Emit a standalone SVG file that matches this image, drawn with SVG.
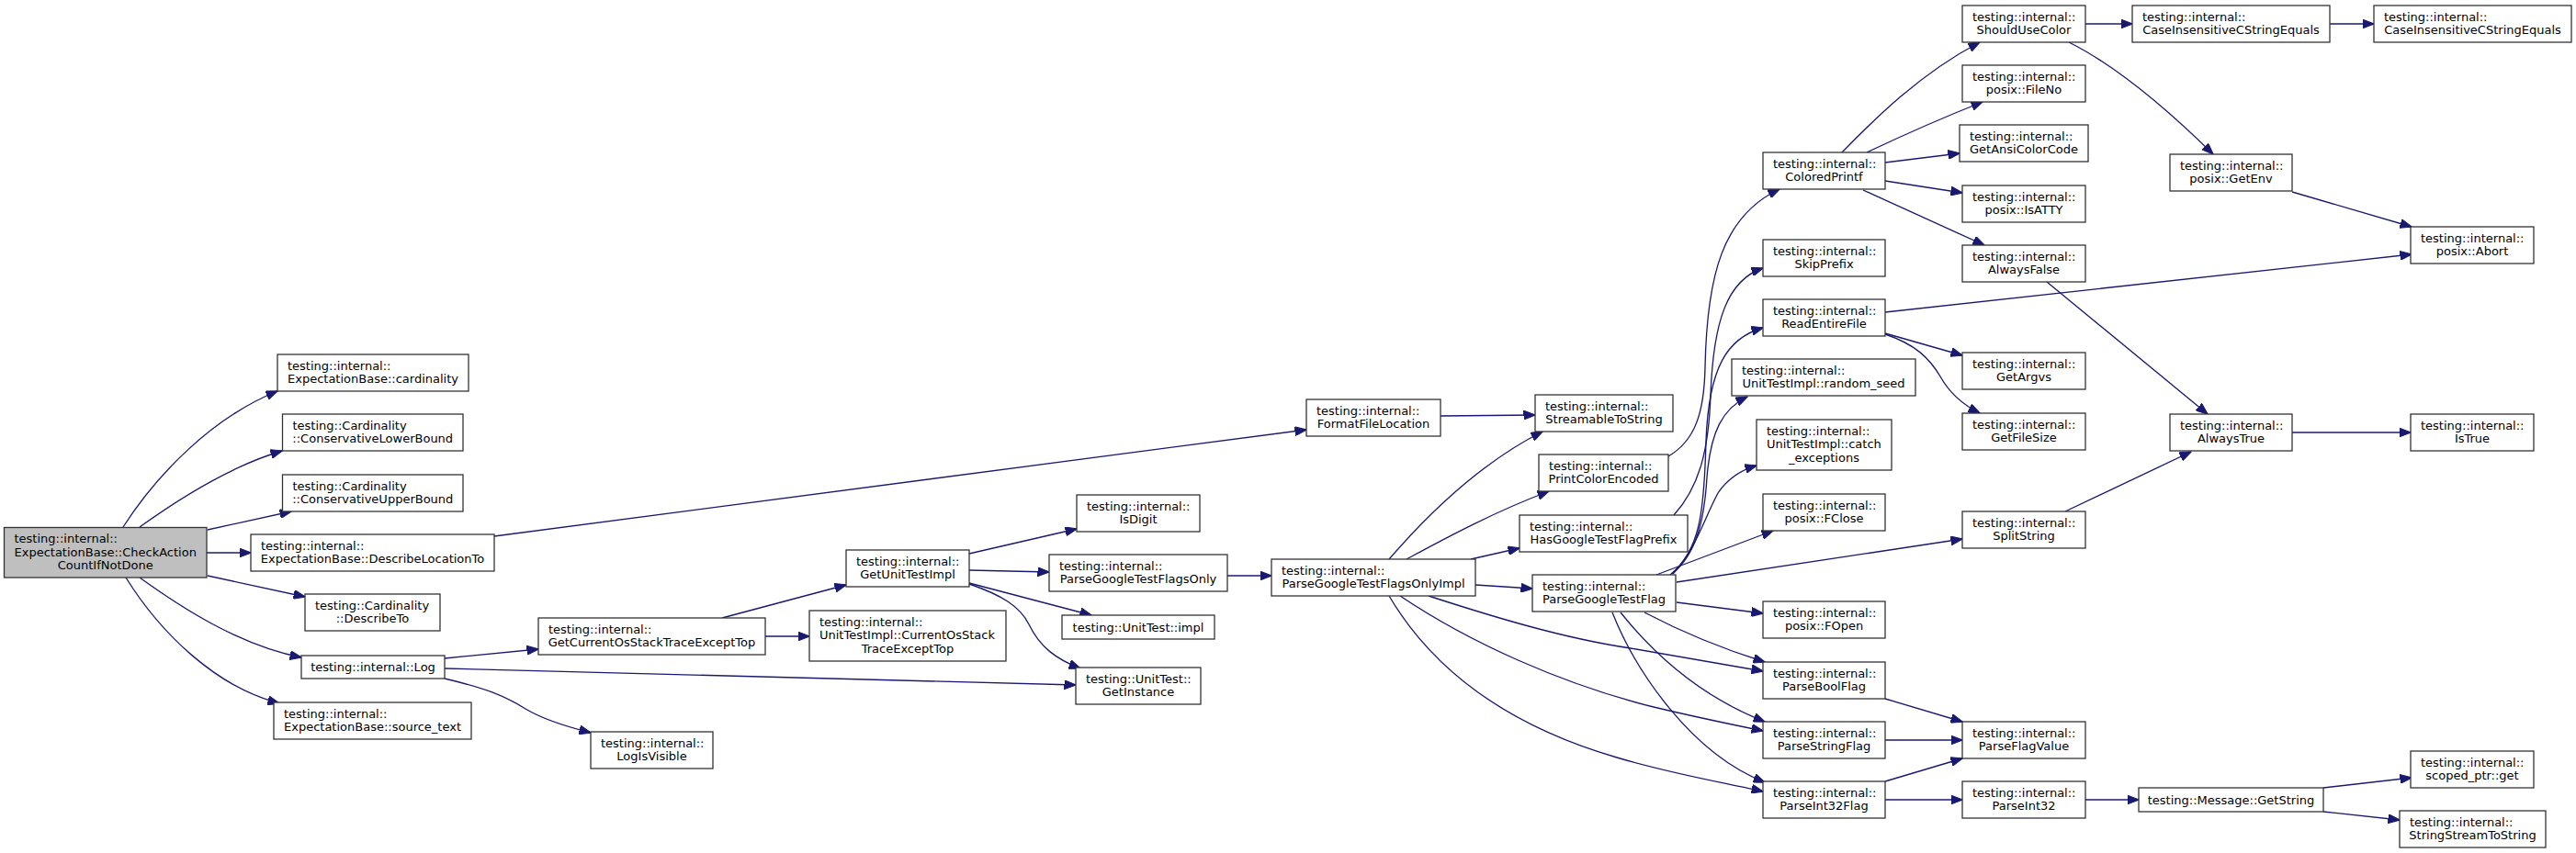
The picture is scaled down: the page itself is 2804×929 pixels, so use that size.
<svg xmlns="http://www.w3.org/2000/svg" width="2804" height="929" viewBox="0 0 2804 929">
<defs>
<style>
.n rect{fill:#ffffff;stroke:#333333;stroke-width:1.3}
.n.root rect{fill:#bfbfbf}
.n text{font-family:"DejaVu Sans","Liberation Sans",sans-serif;font-size:13px;fill:#000000}
.n .m{text-anchor:middle}
#edges path{fill:none;stroke:#191970;stroke-width:1.33;marker-end:url(#ah)}
</style>
<marker id="ah" viewBox="0 0 13 10" refX="12.5" refY="5" markerWidth="13" markerHeight="10" markerUnits="userSpaceOnUse" orient="auto">
<path d="M0,0 L13,5 L0,10 z" fill="#191970" stroke="#191970" stroke-width="1"/>
</marker>
</defs>
<rect width="2804" height="929" fill="#ffffff"/>
<g id="edges">
<path d="M134,574 C170,518 230,455 302,426"/>
<path d="M152,574 C195,543 250,508 307,491"/>
<path d="M226,577 L317,557"/>
<path d="M225,602 L273,602"/>
<path d="M226,627 L332,650"/>
<path d="M152,629 C195,660 260,703 328,716"/>
<path d="M137,629 C175,690 235,748 304,766"/>
<path d="M538,584 L1422,468"/>
<path d="M484,717 L586,707"/>
<path d="M484,728 L1171,746"/>
<path d="M484,739 C530,750 550,758 572,772 C592,784 615,791 643,798"/>
<path d="M786,673 L921,637"/>
<path d="M833,693 L881,693"/>
<path d="M1055,603 L1172,576"/>
<path d="M1055,621 L1142,623"/>
<path d="M1055,635 L1188,670"/>
<path d="M1055,636 C1090,648 1110,660 1120,680 C1132,705 1150,718 1176,728"/>
<path d="M1336,627 L1384,627"/>
<path d="M1512,609 C1550,565 1610,505 1679,470"/>
<path d="M1531,609 C1570,588 1625,558 1686,535"/>
<path d="M1601,609 L1654,597"/>
<path d="M1606,637 L1668,641"/>
<path d="M1555,649 C1620,670 1700,695 1775,706 C1830,716 1880,724 1919,731"/>
<path d="M1524,649 C1600,700 1700,745 1800,770 C1850,782 1890,790 1919,796"/>
<path d="M1512,649 C1560,730 1640,790 1760,825 C1820,843 1880,853 1919,862"/>
<path d="M1790,667 C1830,688 1870,705 1921,721"/>
<path d="M1764,667 C1800,712 1850,758 1921,786"/>
<path d="M1755,667 C1780,730 1840,820 1921,852"/>
<path d="M1825,656 L1919,668"/>
<path d="M1825,634 L2136,587"/>
<path d="M1803,626 L1930,578"/>
<path d="M1821,625 C1845,600 1855,565 1870,537 C1880,522 1895,512 1912,507"/>
<path d="M1820,625 C1845,605 1855,570 1858,520 C1862,470 1875,445 1902,432"/>
<path d="M1818,626 C1850,600 1855,560 1857,480 C1860,400 1880,368 1919,357"/>
<path d="M1822,561 C1850,530 1860,490 1862,430 C1865,350 1880,305 1919,292"/>
<path d="M1816,497 C1845,480 1855,450 1856,400 C1858,300 1875,235 1937,206"/>
<path d="M2005,166 C2040,130 2090,80 2155,46"/>
<path d="M2032,166 C2070,148 2110,130 2158,111"/>
<path d="M2052,177 L2133,167"/>
<path d="M2052,197 L2136,210"/>
<path d="M2028,207 L2160,267"/>
<path d="M2270,26 L2321,26"/>
<path d="M2252,46 C2300,70 2350,110 2409,168"/>
<path d="M2536,26 L2584,26"/>
<path d="M2495,209 L2625,247"/>
<path d="M2052,340 L2625,277"/>
<path d="M2052,363 L2136,387"/>
<path d="M2052,364 C2085,375 2100,390 2112,410 C2122,428 2135,440 2155,450"/>
<path d="M2228,307 L2403,451"/>
<path d="M2248,557 L2385,492"/>
<path d="M2495,471 L2624,471"/>
<path d="M2052,761 L2136,786"/>
<path d="M2052,806 L2136,806"/>
<path d="M2052,851 L2136,826"/>
<path d="M2052,871 L2136,871"/>
<path d="M2270,871 L2328,871"/>
<path d="M2529,858 L2625,847"/>
<path d="M2529,884 L2612,893"/>
<path d="M1568,453 L1671,452"/>
</g>
<g id="n_root" class="n root"><rect x="4.5" y="574.5" width="220.5" height="54.5"/><text x="15.5" y="591">testing::internal::</text><text x="15.5" y="605.5">ExpectationBase::CheckAction</text><text class="m" x="114.75" y="620">CountIfNotDone</text></g>
<g id="n_cardinality" class="n"><rect x="302" y="386" width="208" height="40"/><text x="313" y="402.5">testing::internal::</text><text class="m" x="406" y="417">ExpectationBase::cardinality</text></g>
<g id="n_lower" class="n"><rect x="307.5" y="451" width="196.5" height="40"/><text x="318.5" y="467.5">testing::Cardinality</text><text class="m" x="405.75" y="482">::ConservativeLowerBound</text></g>
<g id="n_upper" class="n"><rect x="307.5" y="517" width="196.5" height="40"/><text x="318.5" y="533.5">testing::Cardinality</text><text class="m" x="405.75" y="548">::ConservativeUpperBound</text></g>
<g id="n_descloc" class="n"><rect x="273" y="582" width="265" height="40"/><text x="284" y="598.5">testing::internal::</text><text class="m" x="405.5" y="613">ExpectationBase::DescribeLocationTo</text></g>
<g id="n_describeto" class="n"><rect x="332" y="647" width="147" height="40"/><text x="343" y="663.5">testing::Cardinality</text><text class="m" x="405.5" y="678">::DescribeTo</text></g>
<g id="n_log" class="n"><rect x="328" y="714" width="156" height="25"/><text class="m" x="406" y="731">testing::internal::Log</text></g>
<g id="n_source" class="n"><rect x="298" y="765" width="215" height="40"/><text x="309" y="781.5">testing::internal::</text><text class="m" x="405.5" y="796">ExpectationBase::source_text</text></g>
<g id="n_getcur" class="n"><rect x="586" y="673" width="247" height="40"/><text x="597" y="689.5">testing::internal::</text><text class="m" x="709.5" y="704">GetCurrentOsStackTraceExceptTop</text></g>
<g id="n_logvis" class="n"><rect x="643" y="797" width="133" height="40"/><text x="654" y="813.5">testing::internal::</text><text class="m" x="709.5" y="828">LogIsVisible</text></g>
<g id="n_getuti" class="n"><rect x="921" y="599" width="134" height="40"/><text x="932" y="615.5">testing::internal::</text><text class="m" x="988" y="630">GetUnitTestImpl</text></g>
<g id="n_curos" class="n"><rect x="881" y="665" width="214" height="55"/><text x="892" y="681.5">testing::internal::</text><text x="892" y="696">UnitTestImpl::CurrentOsStack</text><text class="m" x="988" y="710.5">TraceExceptTop</text></g>
<g id="n_isdigit" class="n"><rect x="1172" y="539" width="134" height="40"/><text x="1183" y="555.5">testing::internal::</text><text class="m" x="1239" y="570">IsDigit</text></g>
<g id="n_pgtfo" class="n"><rect x="1142" y="604" width="194" height="40"/><text x="1153" y="620.5">testing::internal::</text><text class="m" x="1239" y="635">ParseGoogleTestFlagsOnly</text></g>
<g id="n_impl" class="n"><rect x="1156" y="670" width="166" height="26"/><text class="m" x="1239" y="687.5">testing::UnitTest::impl</text></g>
<g id="n_getinst" class="n"><rect x="1171" y="727" width="136" height="40"/><text x="1182" y="743.5">testing::UnitTest::</text><text class="m" x="1239" y="758">GetInstance</text></g>
<g id="n_ffl" class="n"><rect x="1422" y="435" width="146" height="40"/><text x="1433" y="451.5">testing::internal::</text><text class="m" x="1495" y="466">FormatFileLocation</text></g>
<g id="n_s2s" class="n"><rect x="1671" y="430" width="150" height="40"/><text x="1682" y="446.5">testing::internal::</text><text class="m" x="1746" y="461">StreamableToString</text></g>
<g id="n_pce" class="n"><rect x="1675" y="495" width="141" height="40"/><text x="1686" y="511.5">testing::internal::</text><text class="m" x="1745.5" y="526">PrintColorEncoded</text></g>
<g id="n_hgtfp" class="n"><rect x="1654" y="561" width="183" height="40"/><text x="1665" y="577.5">testing::internal::</text><text class="m" x="1745.5" y="592">HasGoogleTestFlagPrefix</text></g>
<g id="n_pgtfoi" class="n"><rect x="1384" y="609" width="222" height="40"/><text x="1395" y="625.5">testing::internal::</text><text class="m" x="1495" y="640">ParseGoogleTestFlagsOnlyImpl</text></g>
<g id="n_pgtf" class="n"><rect x="1668" y="626" width="156" height="40"/><text x="1679" y="642.5">testing::internal::</text><text class="m" x="1746" y="657">ParseGoogleTestFlag</text></g>
<g id="n_colored" class="n"><rect x="1919" y="166" width="133" height="40"/><text x="1930" y="182.5">testing::internal::</text><text class="m" x="1985.5" y="197">ColoredPrintf</text></g>
<g id="n_skip" class="n"><rect x="1919" y="261" width="133" height="40"/><text x="1930" y="277.5">testing::internal::</text><text class="m" x="1985.5" y="292">SkipPrefix</text></g>
<g id="n_read" class="n"><rect x="1919" y="326" width="133" height="40"/><text x="1930" y="342.5">testing::internal::</text><text class="m" x="1985.5" y="357">ReadEntireFile</text></g>
<g id="n_seed" class="n"><rect x="1885" y="391" width="200" height="40"/><text x="1896" y="407.5">testing::internal::</text><text class="m" x="1985" y="422">UnitTestImpl::random_seed</text></g>
<g id="n_catch" class="n"><rect x="1912" y="457" width="147" height="55"/><text x="1923" y="473.5">testing::internal::</text><text x="1923" y="488">UnitTestImpl::catch</text><text class="m" x="1985.5" y="502.5">_exceptions</text></g>
<g id="n_fclose" class="n"><rect x="1919" y="538" width="133" height="40"/><text x="1930" y="554.5">testing::internal::</text><text class="m" x="1985.5" y="569">posix::FClose</text></g>
<g id="n_fopen" class="n"><rect x="1919" y="655" width="133" height="40"/><text x="1930" y="671.5">testing::internal::</text><text class="m" x="1985.5" y="686">posix::FOpen</text></g>
<g id="n_pbool" class="n"><rect x="1919" y="721" width="133" height="40"/><text x="1930" y="737.5">testing::internal::</text><text class="m" x="1985.5" y="752">ParseBoolFlag</text></g>
<g id="n_pstr" class="n"><rect x="1919" y="786" width="133" height="40"/><text x="1930" y="802.5">testing::internal::</text><text class="m" x="1985.5" y="817">ParseStringFlag</text></g>
<g id="n_pint32flag" class="n"><rect x="1919" y="851" width="133" height="40"/><text x="1930" y="867.5">testing::internal::</text><text class="m" x="1985.5" y="882">ParseInt32Flag</text></g>
<g id="n_should" class="n"><rect x="2136" y="6" width="134" height="40"/><text x="2147" y="22.5">testing::internal::</text><text class="m" x="2203" y="37">ShouldUseColor</text></g>
<g id="n_fileno" class="n"><rect x="2136" y="71" width="134" height="40"/><text x="2147" y="87.5">testing::internal::</text><text class="m" x="2203" y="102">posix::FileNo</text></g>
<g id="n_ansi" class="n"><rect x="2133" y="136" width="140" height="40"/><text x="2144" y="152.5">testing::internal::</text><text class="m" x="2203" y="167">GetAnsiColorCode</text></g>
<g id="n_isatty" class="n"><rect x="2136" y="202" width="134" height="40"/><text x="2147" y="218.5">testing::internal::</text><text class="m" x="2203" y="233">posix::IsATTY</text></g>
<g id="n_false" class="n"><rect x="2136" y="267" width="134" height="40"/><text x="2147" y="283.5">testing::internal::</text><text class="m" x="2203" y="298">AlwaysFalse</text></g>
<g id="n_argvs" class="n"><rect x="2136" y="384" width="134" height="40"/><text x="2147" y="400.5">testing::internal::</text><text class="m" x="2203" y="415">GetArgvs</text></g>
<g id="n_filesize" class="n"><rect x="2136" y="450" width="134" height="40"/><text x="2147" y="466.5">testing::internal::</text><text class="m" x="2203" y="481">GetFileSize</text></g>
<g id="n_split" class="n"><rect x="2136" y="557" width="134" height="40"/><text x="2147" y="573.5">testing::internal::</text><text class="m" x="2203" y="588">SplitString</text></g>
<g id="n_pfv" class="n"><rect x="2136" y="786" width="134" height="40"/><text x="2147" y="802.5">testing::internal::</text><text class="m" x="2203" y="817">ParseFlagValue</text></g>
<g id="n_pint32" class="n"><rect x="2136" y="851" width="134" height="40"/><text x="2147" y="867.5">testing::internal::</text><text class="m" x="2203" y="882">ParseInt32</text></g>
<g id="n_cice1" class="n"><rect x="2321" y="6" width="215" height="40"/><text x="2332" y="22.5">testing::internal::</text><text class="m" x="2428.5" y="37">CaseInsensitiveCStringEquals</text></g>
<g id="n_getenv" class="n"><rect x="2362" y="168" width="133" height="40"/><text x="2373" y="184.5">testing::internal::</text><text class="m" x="2428.5" y="199">posix::GetEnv</text></g>
<g id="n_true" class="n"><rect x="2362" y="451" width="133" height="40"/><text x="2373" y="467.5">testing::internal::</text><text class="m" x="2428.5" y="482">AlwaysTrue</text></g>
<g id="n_getstring" class="n"><rect x="2328" y="858" width="201" height="26"/><text class="m" x="2428.5" y="875.5">testing::Message::GetString</text></g>
<g id="n_cice2" class="n"><rect x="2584" y="6" width="215" height="40"/><text x="2595" y="22.5">testing::internal::</text><text class="m" x="2691.5" y="37">CaseInsensitiveCStringEquals</text></g>
<g id="n_abort" class="n"><rect x="2624" y="247" width="134" height="40"/><text x="2635" y="263.5">testing::internal::</text><text class="m" x="2691" y="278">posix::Abort</text></g>
<g id="n_istrue" class="n"><rect x="2624" y="451" width="134" height="40"/><text x="2635" y="467.5">testing::internal::</text><text class="m" x="2691" y="482">IsTrue</text></g>
<g id="n_scoped" class="n"><rect x="2624" y="818" width="134" height="40"/><text x="2635" y="834.5">testing::internal::</text><text class="m" x="2691" y="849">scoped_ptr::get</text></g>
<g id="n_ss2s" class="n"><rect x="2612" y="883" width="159" height="40"/><text x="2623" y="899.5">testing::internal::</text><text class="m" x="2691.5" y="914">StringStreamToString</text></g>
</svg>
